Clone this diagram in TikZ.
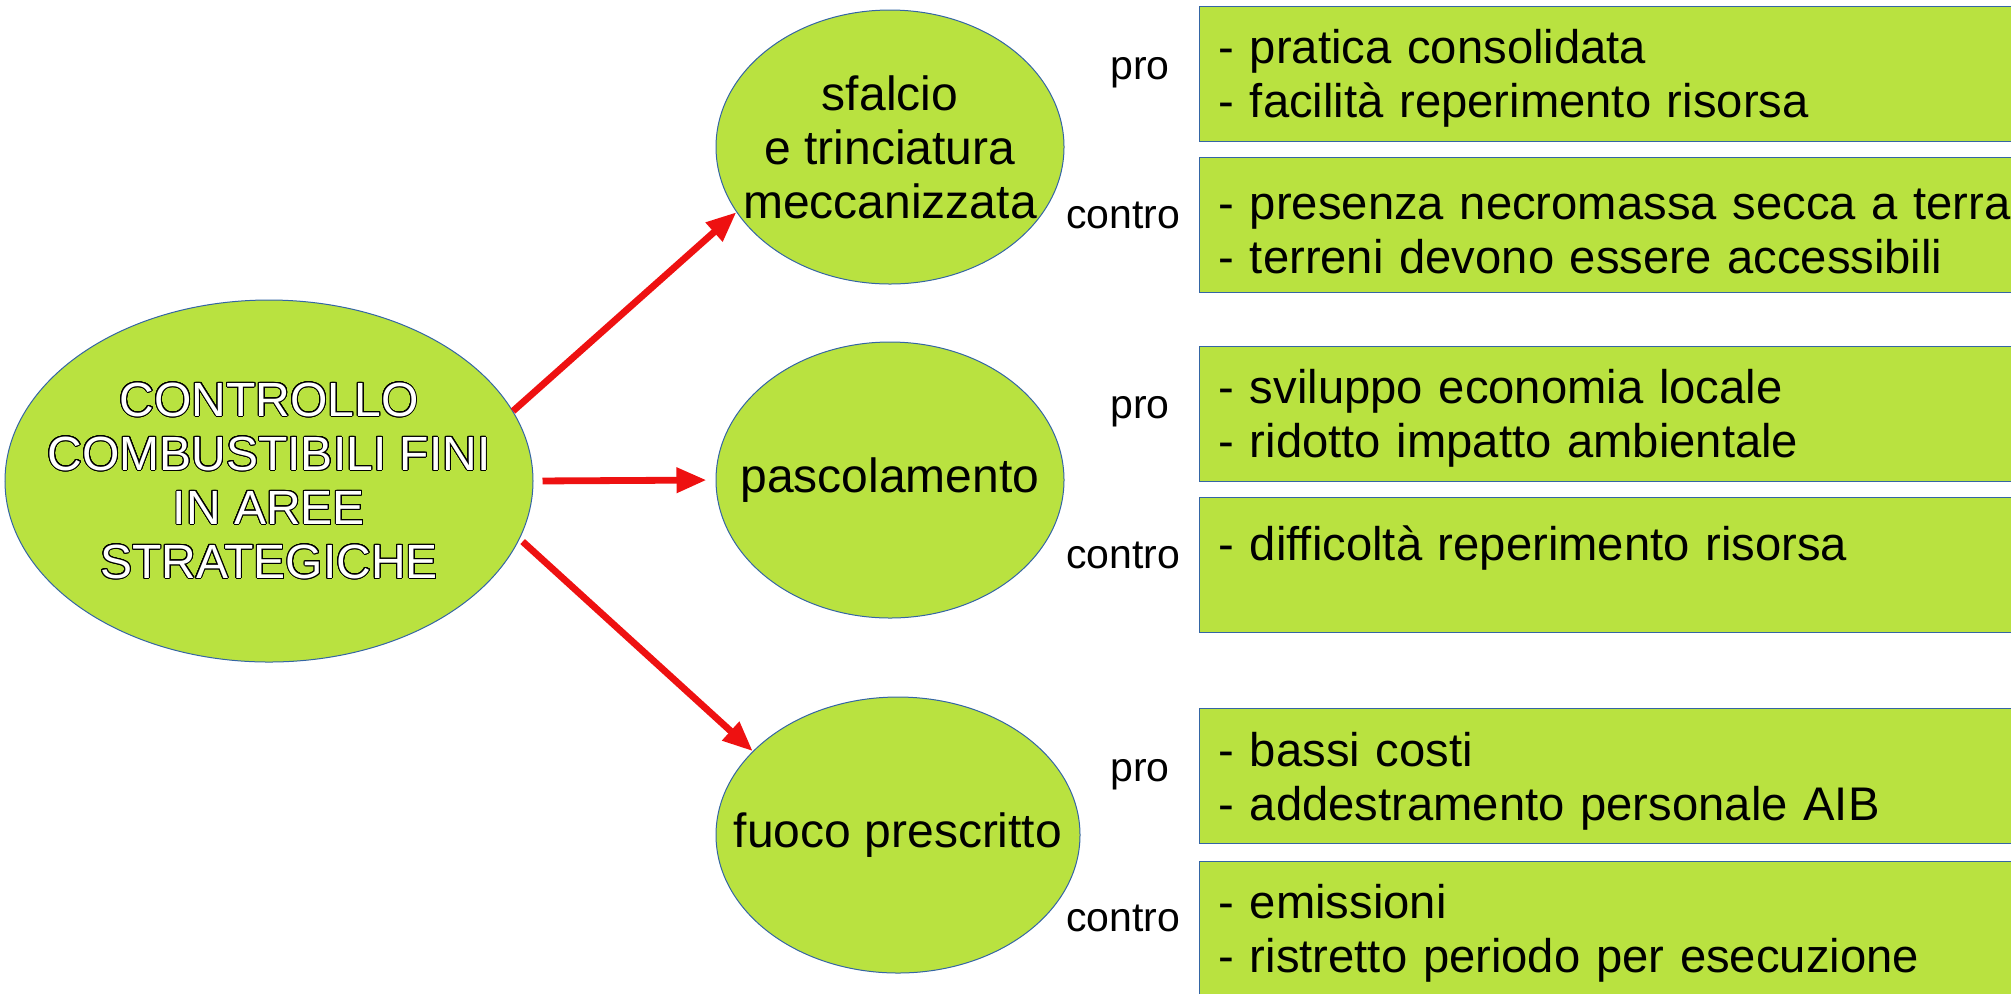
\documentclass[tikz,border=0pt]{standalone}
\usepackage{fontspec}
\setmainfont{Liberation Sans}
\usepackage{contour}
\usetikzlibrary{shapes.geometric,arrows.meta}
\contourlength{0.5pt}
\contournumber{24}

\begin{document}
\begin{tikzpicture}[x=0.5pt,y=-0.5pt]
        \definecolor{limefill}{RGB}{185,226,64}
        \definecolor{edgeblue}{RGB}{52,101,164}
        \definecolor{arrowred}{RGB}{238,17,17}

        \tikzset{
          bubble/.style={ellipse, draw=edgeblue, line width=0.5pt, fill=limefill, inner sep=0pt},
          bubbletext/.style={align=center, inner sep=0pt, font=\fontsize{24}{27}\selectfont},
          listbox/.style={rectangle, draw=edgeblue, line width=0.5pt, fill=limefill, anchor=west,
                          minimum height=67.5pt, text width=420pt, inner xsep=9.5pt, align=left,
                          font=\fontsize{23.6}{27}\selectfont,
                          execute at begin node={\rule{0pt}{22pt}}},
          side/.style={inner sep=0pt, font=\fontsize{20.5}{24}\selectfont},
          link/.style={draw=arrowred, line width=3.4pt, -{Triangle[length=15pt,width=12pt]}}
        }

        \useasboundingbox (0,0) rectangle (2011,993);

        % ellipses
        \node[bubble, minimum width=264pt, minimum height=181pt] (main) at (269,481) {};
        \node[bubble, minimum width=174pt, minimum height=137pt] (sfalcio) at (890,147) {};
        \node[bubble, minimum width=174pt, minimum height=138pt] (pascolo) at (890,480) {};
        \node[bubble, minimum width=182pt, minimum height=138pt] (fuoco) at (898,835) {};

        \node[bubbletext, text=white] (maintext) at (main) {\contour{black}{CONTROLLO}\\
              \contour{black}{COMBUSTIBILI FINI}\\ \contour{black}{IN AREE}\\ \contour{black}{STRATEGICHE}};
        \node[bubbletext] (sfalciotext) at (sfalcio) {sfalcio\\ e trinciatura\\ meccanizzata};
        \node[bubbletext] (pascolotext) at (pascolo) {pascolamento};
        \node[bubbletext] (fuocotext) at (fuoco) {fuoco prescritto};

        % arrows
        \draw[link] (main.16.9) -- (sfalcio.203);
        \draw[link, shorten <=4.5pt, shorten >=4.5pt] (main.east) -- (pascolo.west);
        \draw[link, shorten <=2pt] (main.-13.5) -- (fuoco.150.4);

        % pro / contro
        \node[listbox] (proA) at (1199,73.5) {- pratica consolidata\\ - facilità reperimento risorsa};
        \node[listbox] (controA) at (1199,225) {- presenza necromassa secca a terra\\ - terreni devono essere accessibili};
        \node[listbox] (proB) at (1199,413.5) {- sviluppo economia locale\\ - ridotto impatto ambientale};
        \node[listbox] (controB) at (1199,565) {- difficoltà reperimento risorsa\\ \mbox{}};
        \node[listbox] (proC) at (1199,776) {- bassi costi\\ - addestramento personale AIB};
        \node[listbox] (controC) at (1199,928.5) {- emissioni\\ - ristretto periodo per esecuzione};

        \node[side] (proAlbl) at (1140,73) {pro};
        \node[side] (controAlbl) at (1123,215) {contro};
        \node[side] (proBlbl) at (1140,412) {pro};
        \node[side] (controBlbl) at (1123,555) {contro};
        \node[side] (proClbl) at (1140,775) {pro};
        \node[side] (controClbl) at (1123,918) {contro};
\end{tikzpicture}
\end{document}
